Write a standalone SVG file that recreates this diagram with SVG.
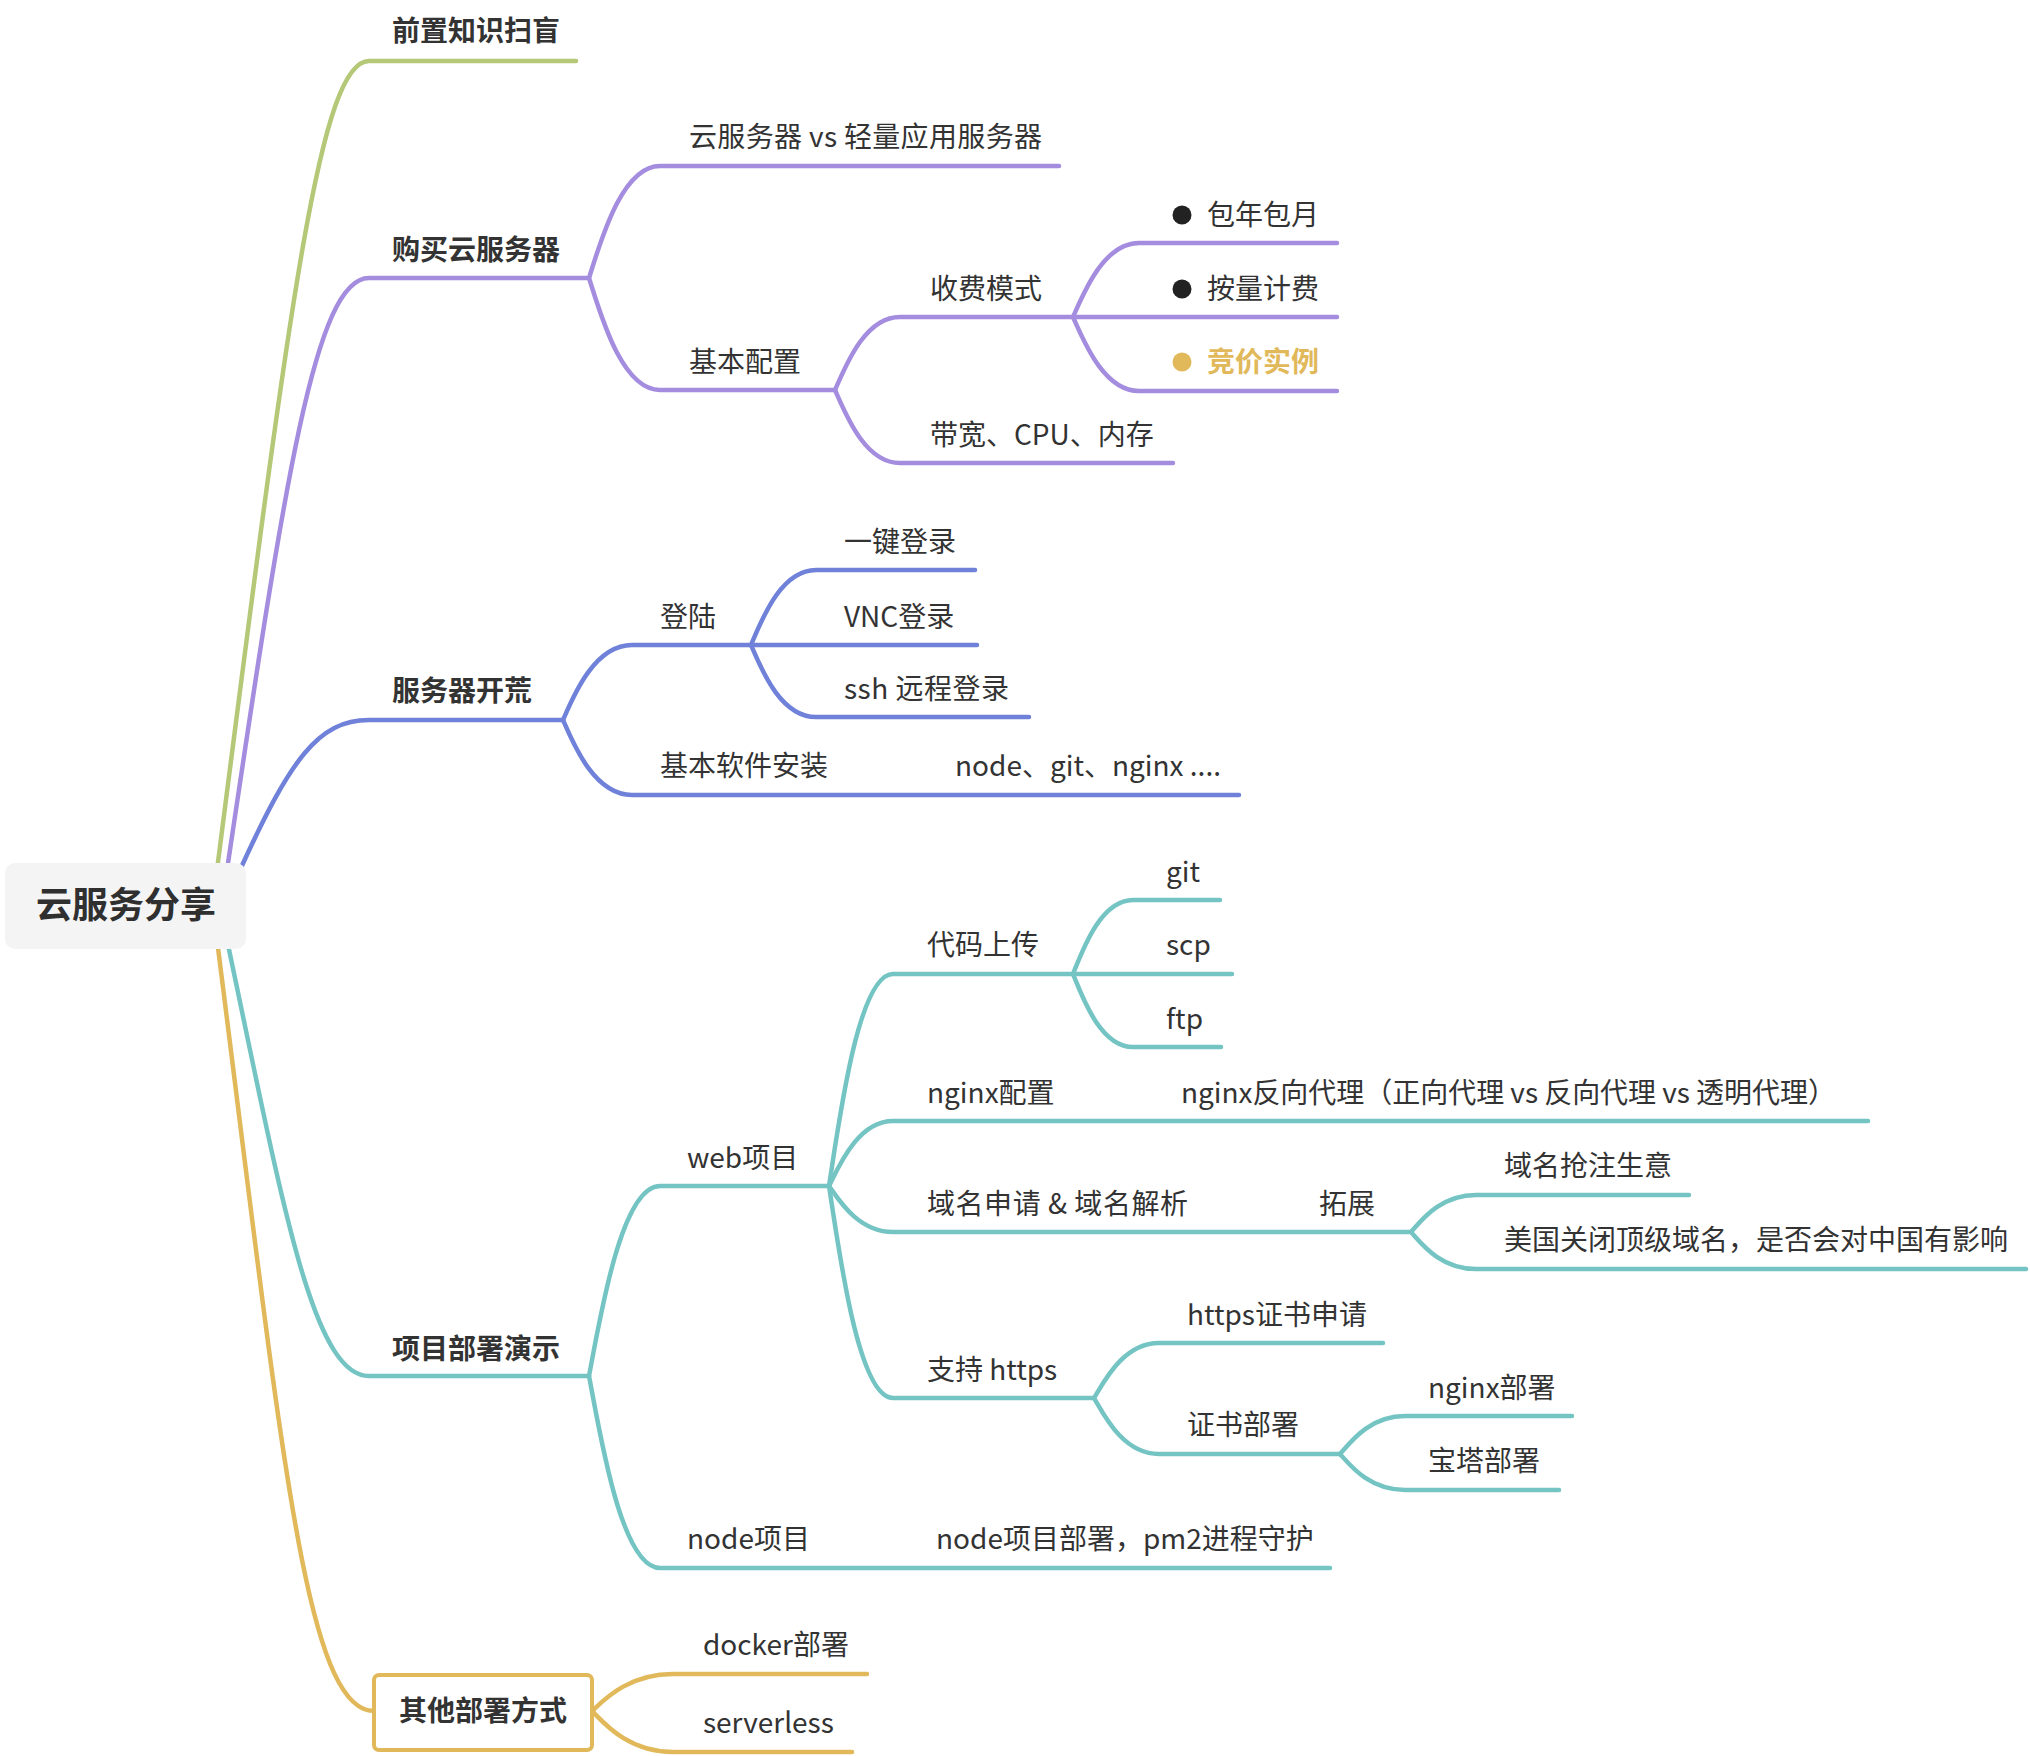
<svg xmlns="http://www.w3.org/2000/svg" width="2030" height="1756" viewBox="0 0 2030 1756">
<style>
text{font-family:"Noto Sans CJK SC","Liberation Sans",sans-serif;font-size:28px;fill:#333}
.b{font-weight:700}
.root{font-size:36px;font-weight:700;fill:#2f2f2f}
.c path{fill:none;stroke-width:4.5;stroke-linecap:round;stroke-linejoin:round}
.g{stroke:#b4c878}.p{stroke:#a48ddf}.u{stroke:#6f81d9}.t{stroke:#74c4c3}.y{stroke:#e1b85a}
</style>
<rect width="2030" height="1756" fill="#fff"/>
<g id="connectors" class="c">
<path class="g" d="M217 870 C290 300 320 61 369 61 L576 61"/>
<path class="p" d="M227 870 C285 480 315 278 369 278 L589 278"/>
<path class="u" d="M240 870 C290 760 318 720 369 720 L563 720"/>
<path class="t" d="M227 940 C282 1200 312 1376 369 1376 L589 1376"/>
<path class="y" d="M217 940 C282 1450 305 1711 374 1711"/>
<path class="p" d="M589 278 C600 244 621 166 660 166 L1059 166"/>
<path class="p" d="M589 278 C600 312 621 390 660 390 L835 390"/>
<path class="p" d="M835 390 C845 368 864 317 900 317 L1075 317"/>
<path class="p" d="M835 390 C845 412 864 463 900 463 L1173 463"/>
<path class="p" d="M1073 317 C1083 295 1103 243 1139 243 L1337 243"/>
<path class="p" d="M1073 317 L1337 317"/>
<path class="p" d="M1073 317 C1083 339 1103 391 1139 391 L1337 391"/>
<path class="u" d="M563 720 C573 697 594 645 632 645 L751 645"/>
<path class="u" d="M563 720 C573 743 594 795 632 795 L1239 795"/>
<path class="u" d="M751 645 C761 622 780 570 816 570 L975 570"/>
<path class="u" d="M751 645 L977 645"/>
<path class="u" d="M751 645 C761 668 780 717 816 717 L1029 717"/>
<path class="t" d="M589 1376 C600 1319 621 1186 660 1186 L829 1186"/>
<path class="t" d="M589 1376 C600 1433 621 1568 660 1568 L1330 1568"/>
<path class="t" d="M829 1186 C839 1122 858 974 893 974 L1075 974"/>
<path class="t" d="M829 1186 C839 1166 858 1121 893 1121 L1868 1121"/>
<path class="t" d="M829 1186 C839 1200 858 1232 893 1232 L1411 1232"/>
<path class="t" d="M829 1186 C839 1250 858 1398 893 1398 L1094 1398"/>
<path class="t" d="M1073 974 C1082 952 1100 900 1133 900 L1220 900"/>
<path class="t" d="M1073 974 L1232 974"/>
<path class="t" d="M1073 974 C1082 996 1100 1047 1133 1047 L1221 1047"/>
<path class="t" d="M1411 1232 C1421 1221 1440 1195 1476 1195 L1689 1195"/>
<path class="t" d="M1411 1232 C1421 1243 1440 1269 1476 1269 L2026 1269"/>
<path class="t" d="M1094 1398 C1104 1382 1123 1343 1159 1343 L1383 1343"/>
<path class="t" d="M1094 1398 C1104 1415 1123 1454 1159 1454 L1340 1454"/>
<path class="t" d="M1340 1454 C1350 1443 1369 1416 1405 1416 L1572 1416"/>
<path class="t" d="M1340 1454 C1350 1465 1369 1490 1405 1490 L1559 1490"/>
<path class="y" d="M592 1711 C604 1700 628 1674 673 1674 L867 1674"/>
<path class="y" d="M592 1711 C604 1723 628 1752 673 1752 L852 1752"/>
</g>
<g id="root"><rect x="5" y="863" width="241" height="86" rx="10" fill="#f4f4f4"/><text class="root" x="126" y="918" text-anchor="middle">云服务分享</text></g>
<g id="n1"><text class="b" x="392" y="41">前置知识扫盲</text></g>
<g id="n2"><text class="b" x="392" y="260">购买云服务器</text></g>
<g id="n3"><text class="b" x="392" y="701">服务器开荒</text></g>
<g id="n4"><text class="b" x="392" y="1359">项目部署演示</text></g>
<g id="n5"><rect x="374" y="1675" width="218" height="75" rx="5" fill="#fff" stroke="#e1b85a" stroke-width="4"/><text class="b" x="483" y="1721" text-anchor="middle">其他部署方式</text></g>
<g id="n2a"><text x="689" y="147" textLength="353" lengthAdjust="spacing">云服务器 vs 轻量应用服务器</text></g>
<g id="n2b"><text x="689" y="372">基本配置</text></g>
<g id="n2b1"><text x="930" y="299">收费模式</text></g>
<g id="n2b2"><text x="930" y="445">带宽、CPU、内存</text></g>
<g id="n2b1a"><circle cx="1182" cy="215" r="9.5" fill="#222"/><text x="1207" y="225">包年包月</text></g>
<g id="n2b1b"><circle cx="1182" cy="289" r="9.5" fill="#222"/><text x="1207" y="299">按量计费</text></g>
<g id="n2b1c"><circle cx="1182" cy="362" r="9.5" fill="#e1b85a"/><text class="b" x="1207" y="372" style="fill:#e1b85a">竞价实例</text></g>
<g id="n3a"><text x="660" y="627">登陆</text></g>
<g id="n3b"><text x="660" y="776">基本软件安装</text></g>
<g id="n3b1"><text x="955" y="776">node、git、nginx ....</text></g>
<g id="n3a1"><text x="844" y="552">一键登录</text></g>
<g id="n3a2"><text x="844" y="627">VNC登录</text></g>
<g id="n3a3"><text x="844" y="699" textLength="165" lengthAdjust="spacing">ssh 远程登录</text></g>
<g id="n4a"><text x="687" y="1168">web项目</text></g>
<g id="n4b"><text x="687" y="1549">node项目</text></g>
<g id="n4b1"><text x="936" y="1549">node项目部署，pm2进程守护</text></g>
<g id="n4a1"><text x="927" y="955">代码上传</text></g>
<g id="n4a2"><text x="927" y="1103">nginx配置</text></g>
<g id="n4a2a"><text x="1181" y="1103" textLength="655" lengthAdjust="spacing">nginx反向代理（正向代理 vs 反向代理 vs 透明代理）</text></g>
<g id="n4a3"><text x="927" y="1214" textLength="261" lengthAdjust="spacing">域名申请 &amp; 域名解析</text></g>
<g id="n4a3a"><text x="1319" y="1214">拓展</text></g>
<g id="n4a4"><text x="927" y="1380">支持 https</text></g>
<g id="n4a1a"><text x="1166" y="882">git</text></g>
<g id="n4a1b"><text x="1166" y="955">scp</text></g>
<g id="n4a1c"><text x="1166" y="1029">ftp</text></g>
<g id="n4a3a1"><text x="1504" y="1176">域名抢注生意</text></g>
<g id="n4a3a2"><text x="1504" y="1250">美国关闭顶级域名，是否会对中国有影响</text></g>
<g id="n4a4a"><text x="1187" y="1325">https证书申请</text></g>
<g id="n4a4b"><text x="1187" y="1435">证书部署</text></g>
<g id="n4a4b1"><text x="1428" y="1398">nginx部署</text></g>
<g id="n4a4b2"><text x="1428" y="1471">宝塔部署</text></g>
<g id="n5a"><text x="703" y="1655">docker部署</text></g>
<g id="n5b"><text x="703" y="1733">serverless</text></g>
</svg>
